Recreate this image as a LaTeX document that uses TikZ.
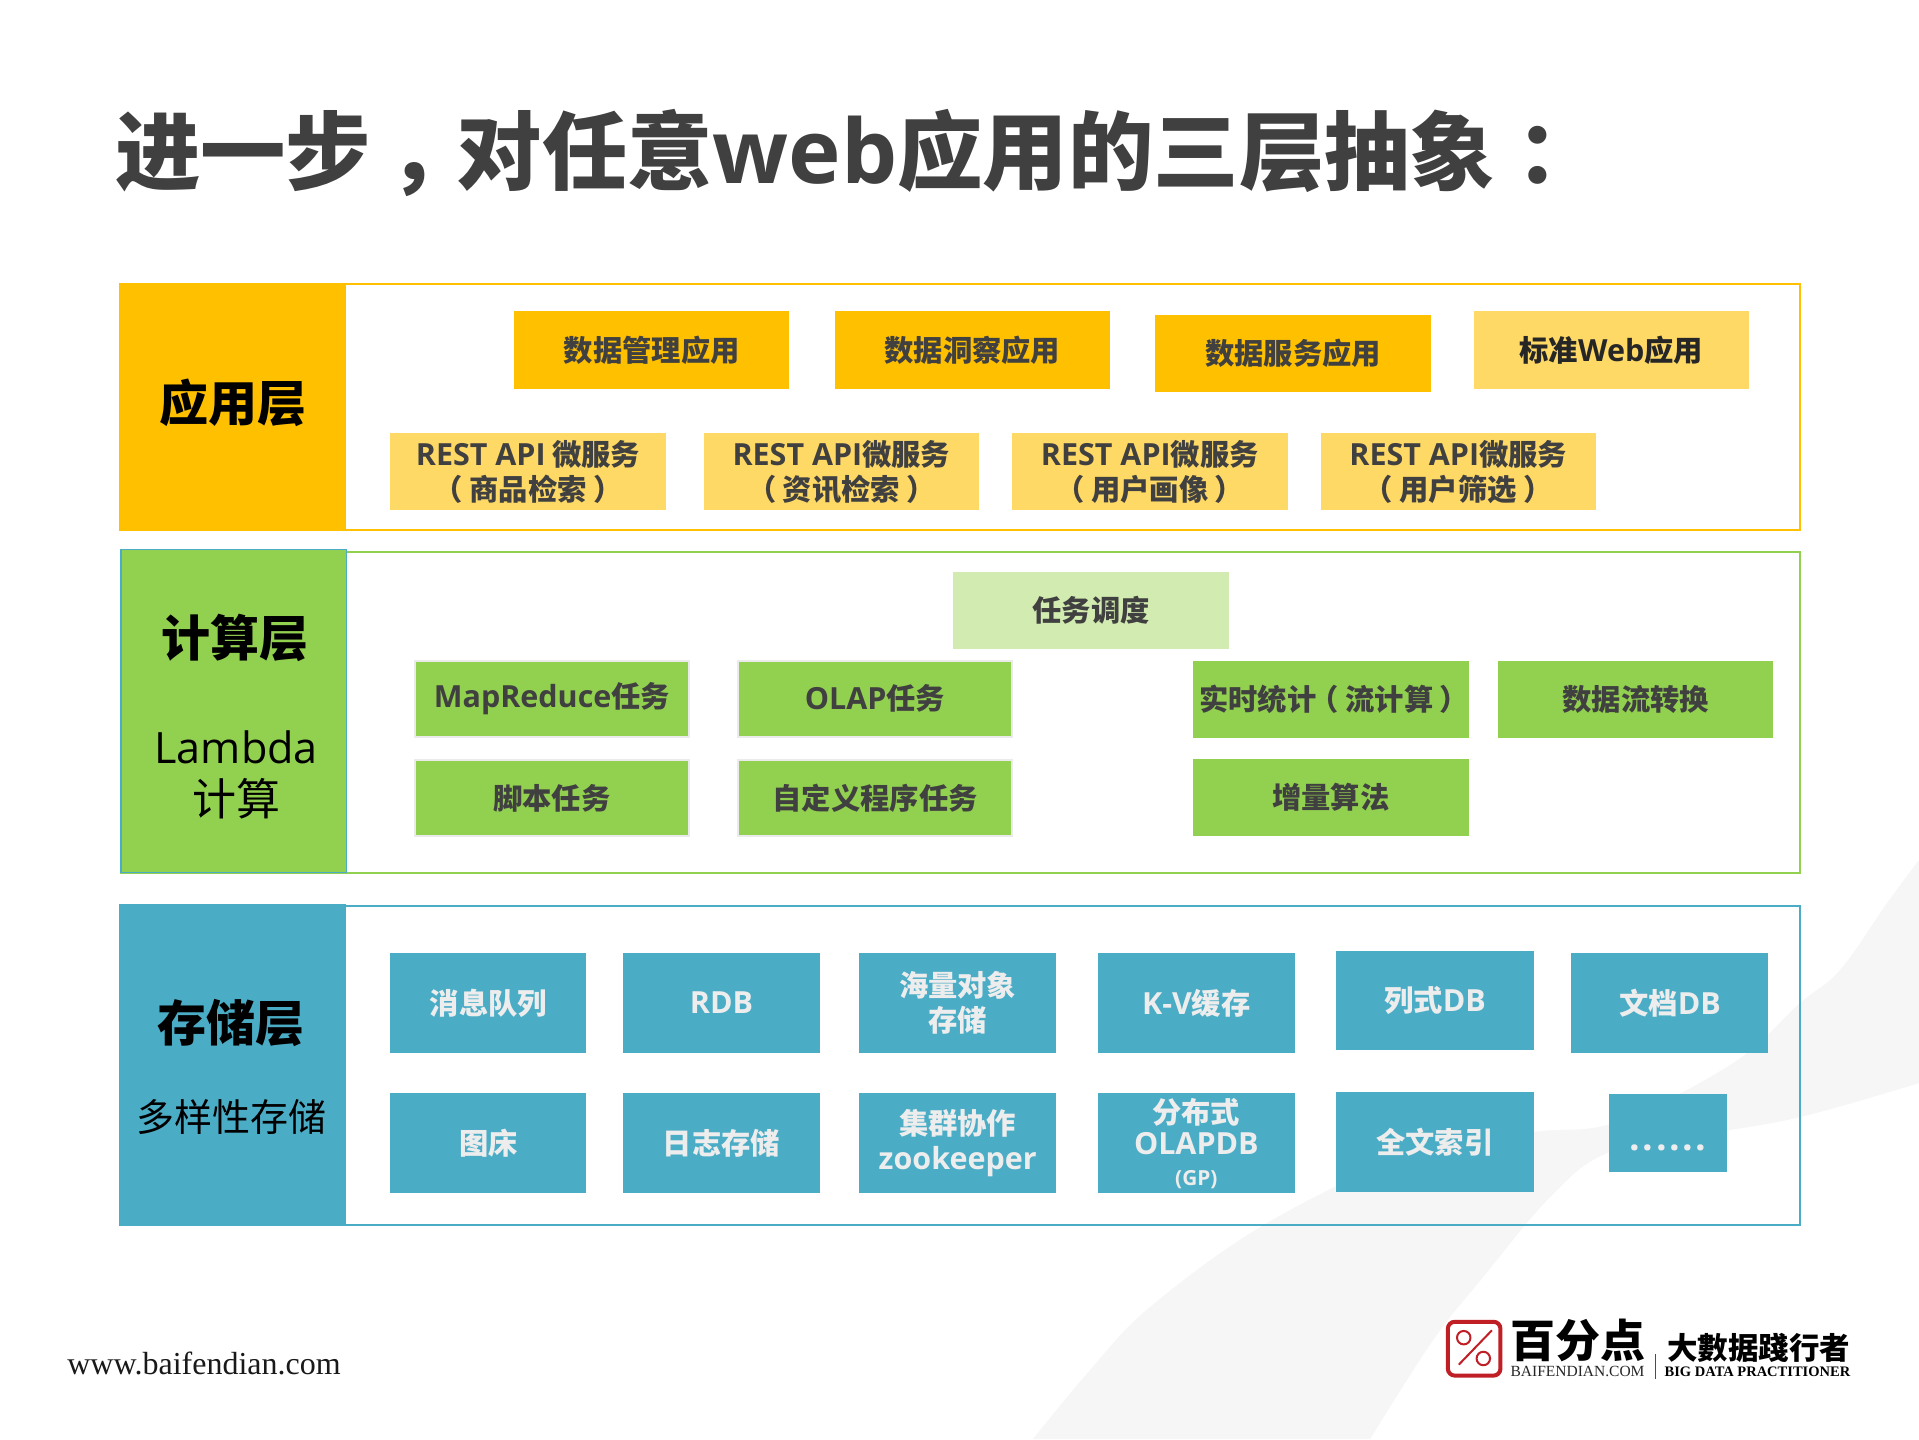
\documentclass[tikz,border=0pt]{standalone}
\usepackage{fontspec}
\setmainfont{Noto Sans CJK SC}
\newfontfamily\lat[Scale=1.04]{Open Sans}
\newfontfamily\ser{Liberation Serif}
\definecolor{ink}{HTML}{404040}
\definecolor{amber}{HTML}{FFC000}
\definecolor{amberlt}{HTML}{FFD966}
\definecolor{leaf}{HTML}{92D050}
\definecolor{leaflt}{HTML}{D1EBB0}
\definecolor{sea}{HTML}{4BACC6}
\definecolor{swoosh}{HTML}{F6F6F6}
\definecolor{logored}{HTML}{C01F25}
\newcommand{\bx}[7]{%
  \pgfmathsetmacro{\cxx}{(#3+#5)/2}\pgfmathsetmacro{\cyy}{(#4+#6)/2}%
  \pgfmathsetmacro{\www}{(#5-#3)*1.2238}\pgfmathsetmacro{\hhh}{(#6-#4)*1.2238}%
  \node[#2,minimum width=\www pt,minimum height=\hhh pt] (#1) at (\cxx,\cyy) {#7};}
\newcommand{\lp}{\kern-.22em（\kern.22em}
\newcommand{\rp}{\kern.22em）\kern-.22em}
\tikzset{
  base/.style={inner sep=0pt,outer sep=0pt,align=center,font=\fontsize{29.3}{35}\selectfont\bfseries,text=ink},
  amberbox/.style={base,fill=amber},
  lightbox/.style={base,fill=amberlt},
  leafbox/.style={base,fill=leaf},
  leafedged/.style={base,fill=leaf,draw=black!8,line width=2pt},
  tasklt/.style={base,fill=leaflt},
  seabox/.style={base,fill=sea,text=white!93!black},
  frameA/.style={inner sep=0pt,outer sep=0pt,draw=amber,line width=2pt},
  frameB/.style={inner sep=0pt,outer sep=0pt,draw=leaf,line width=2pt},
  frameC/.style={inner sep=0pt,outer sep=0pt,draw=sea,line width=2pt},
  side/.style={inner sep=0pt,outer sep=0pt,align=center,text=black},
  sideT/.style={inner sep=0pt,outer sep=0pt,align=center,text=black,font=\fontsize{49}{56}\selectfont\bfseries},
  sideS/.style={inner sep=0pt,outer sep=0pt,align=center,text=black,font=\fontsize{44}{52}\selectfont},
  free/.style={inner sep=0pt,outer sep=0pt,anchor=west},
}
\begin{document}
\begin{tikzpicture}[x=1.2238pt,y=-1.2238pt]
\useasboundingbox (0,0) rectangle (1568,1176);
\fill[white] (0,0) rectangle (1568,1176);
% background ribbon, in full-size pixels
\begin{scope}[x=1pt,y=-1pt]
\fill[swoosh] plot[smooth,tension=.6] coordinates {(1033,1439) (1090,1370) (1150,1307) (1267,1223) (1420,1150) (1533,1132) (1617,1122) (1733,1063) (1800,1003) (1840,970) (1887,903) (1919,860)}
  -- plot[smooth,tension=.6] coordinates {(1919,1083) (1800,1117) (1700,1135) (1607,1153) (1550,1197) (1483,1277) (1433,1340) (1370,1439)} -- cycle;
\end{scope}
% title
\node[free,text=ink,font=\fontsize{85.4}{100}\selectfont\bfseries] (title) at (94,125) {进一步\kern.2em，\kern-.2em对任意{\lat web}应用的三层抽象\kern.25em：};
% application layer
\bx{appF}{frameA}{98}{232}{1471}{433}{}
\bx{appS}{sideT,fill=amber}{97}{231}{283}{434}{}
\node[sideT] (appT) at (190,329) {应用层};
\bx{a1}{amberbox}{420}{254}{645}{318}{数据管理应用}
\bx{a2}{amberbox}{682}{254}{907}{318}{数据洞察应用}
\bx{a3}{amberbox}{944}{257}{1169}{320}{数据服务应用}
\bx{a4}{lightbox,text=black!85}{1204}{254}{1429}{318}{标准{\lat Web}应用}
\bx{m1}{lightbox}{319}{354}{544}{417}{{\lat REST API} 微服务\\\lp 商品检索\rp}
\bx{m2}{lightbox}{575}{354}{800}{417}{{\lat REST API}微服务\\\lp 资讯检索\rp}
\bx{m3}{lightbox}{827}{354}{1052}{417}{{\lat REST API}微服务\\\lp 用户画像\rp}
\bx{m4}{lightbox}{1079}{354}{1304}{417}{{\lat REST API}微服务\\\lp 用户筛选\rp}
% compute layer
\bx{cmpF}{frameB}{99}{451}{1471}{713}{}
\bx{cmpS}{side,fill=leaf,draw=sea,line width=1.5pt}{99}{449}{283}{713}{}
\node[sideT] (cmpT) at (192,521) {计算层};
\node[sideS] (cmpL) at (193,633) {{\fontsize{41.5}{52}\selectfont\lat Lambda}\\计算};
\bx{c0}{tasklt}{779}{467}{1004}{530}{任务调度}
\bx{c1}{leafedged}{339}{540}{563}{602}{{\lat MapReduce}任务}
\bx{c2}{leafedged}{603}{540}{827}{602}{{\lat OLAP}任务}
\bx{c3}{leafbox}{975}{540}{1200}{603}{实时统计\lp 流计算\rp}
\bx{c4}{leafbox}{1224}{540}{1449}{603}{数据流转换}
\bx{c5}{leafedged}{339}{621}{563}{683}{脚本任务}
\bx{c6}{leafedged}{603}{621}{827}{683}{自定义程序任务}
\bx{c7}{leafbox}{975}{620}{1200}{683}{增量算法}
% storage layer
\bx{stF}{frameC}{98}{740}{1471}{1001}{}
\bx{stS}{side,fill=sea}{97}{739}{283}{1002}{}
\node[sideT] (stT) at (189,836) {存储层};
\node[sideS,font=\fontsize{38}{46}\selectfont] (stL) at (189,913) {多样性存储};
\bx{s1}{seabox}{319}{779}{479}{860}{消息队列}
\bx{s2}{seabox}{509}{779}{670}{860}{{\lat RDB}}
\bx{s3}{seabox}{702}{779}{863}{860}{海量对象\\存储}
\bx{s4}{seabox}{897}{779}{1058}{860}{{\lat K-V}缓存}
\bx{s5}{seabox}{1092}{777}{1253}{858}{列式{\lat DB}}
\bx{s6}{seabox}{1284}{779}{1445}{860}{文档{\lat DB}}
\bx{s7}{seabox}{319}{893}{479}{975}{图床}
\bx{s8}{seabox}{509}{893}{670}{975}{日志存储}
\bx{s9}{seabox}{702}{893}{863}{975}{集群协作\\{\lat zookeeper}}
\bx{s10}{seabox,font=\fontsize{29.3}{31}\selectfont\bfseries}{897}{893}{1058}{975}{分布式\\{\lat OLAPDB}\\{\fontsize{20}{24}\selectfont\lat (GP)}}
\bx{s11}{seabox}{1092}{892}{1253}{974}{全文索引}
\bx{s12}{seabox,font=\fontsize{36}{36}\selectfont\bfseries}{1315}{894}{1411}{958}{\raisebox{-34pt}{\lat .\kern2.6pt.\kern2.6pt.\kern2.6pt.\kern2.6pt.\kern2.6pt.}}
% footer
\node[free,text=black!90,font=\fontsize{32}{36}\selectfont\ser] (url) at (55,1114) {www.baifendian.com};
% logo
\draw[logored,line width=4pt,rounded corners=7pt,fill=white] (1183,1080) rectangle (1226,1124);
\draw[logored,line width=2pt] (1192,1115) -- (1219,1087);
\draw[logored,line width=2pt] (1196,1093) circle (5.5);
\draw[logored,line width=2pt] (1212,1110) circle (5.5);
\node[inner sep=0pt,text=black,font=\fontsize{45}{50}\selectfont\bfseries] (lg1) at (1289,1095) {百分点};
\node[inner sep=0pt,text=black!85,font=\fontsize{15.5}{18}\selectfont\ser] (lg2) at (1289,1121) {BAIFENDIAN.COM};
\draw[black!70,line width=1pt] (1353,1106) -- (1353,1127);
\node[inner sep=0pt,text=black,font=\fontsize{30.5}{36}\selectfont\bfseries] (lg3) at (1437,1101) {大數据踐行者};
\node[inner sep=0pt,text=black,font=\fontsize{14.5}{18}\selectfont\ser\bfseries] (lg4) at (1436,1121) {BIG DATA PRACTITIONER};
\end{tikzpicture}
\end{document}
